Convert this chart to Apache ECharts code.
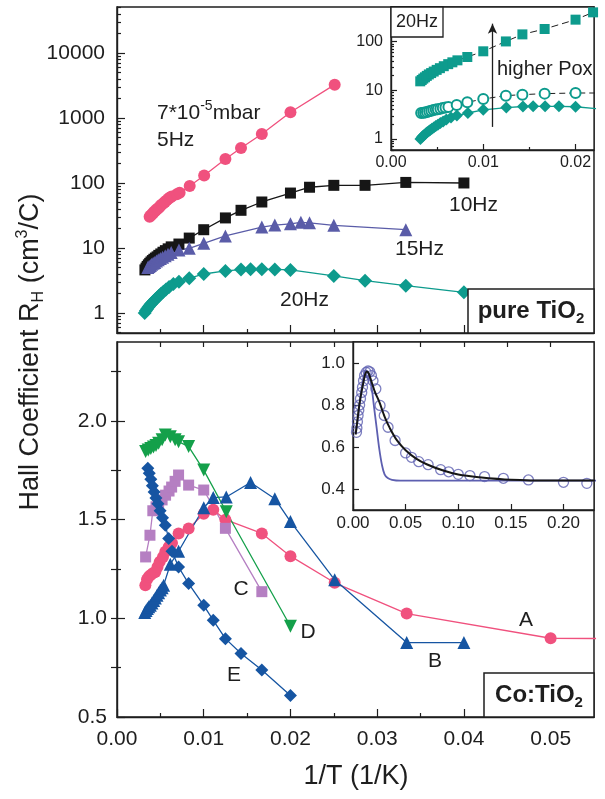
<!DOCTYPE html>
<html>
<head>
<meta charset="utf-8">
<script src="https://cdn.jsdelivr.net/npm/echarts@6/dist/echarts.min.js"></script>
<style>
html, body { margin: 0; padding: 0; background: #fff; }
#main { width: 605px; height: 799px; }
</style>
</head>
<body>
<div id="main"></div>
<script>
var INK = '#1e1e1e';
var FONT = "'Liberation Sans', Arial, Helvetica, sans-serif";

// ---- top panel, pure TiO2 (1/T, R_H) ----
var hz5X = [0.00376, 0.0039, 0.00403, 0.00417, 0.0043, 0.00444, 0.00458, 0.00472, 0.00487, 0.00502, 0.00518, 0.00535, 0.00553, 0.00572, 0.00592, 0.00613, 0.0063, 0.0069, 0.00722, 0.00838, 0.01005, 0.0125, 0.0143, 0.0167, 0.0200, 0.0251];
var hz5Y = [30.3, 31.5, 33, 34.5, 36, 37.5, 39, 40.5, 42.5, 44.5, 46.5, 49, 51, 54, 57, 60, 62, 67, 71, 90, 130, 234, 345, 567, 1224, 3256];

var hz10X = [0.00322, 0.00335, 0.00348, 0.00362, 0.00377, 0.00392, 0.00408, 0.00425, 0.00443, 0.00462, 0.00482, 0.00505, 0.0053, 0.00558, 0.0059, 0.00625, 0.00714, 0.00833, 0.0100, 0.0125, 0.0143, 0.0167, 0.0200, 0.0222, 0.0250, 0.0286, 0.0333, 0.0400];
var hz10Y = [4.6, 4.9, 5.2, 5.5, 5.8, 6.1, 6.4, 6.7, 7.0, 7.3, 7.7, 8.1, 8.6, 9.1, 9.7, 10.4, 11.5, 14.2, 19.1, 29, 38, 51, 70, 86, 92, 92, 102, 100];

var hz15X = [0.00355, 0.0037, 0.00385, 0.004, 0.00417, 0.00435, 0.00455, 0.00476, 0.005, 0.00526, 0.00556, 0.00588, 0.00625, 0.00714, 0.00833, 0.0100, 0.0125, 0.0167, 0.0182, 0.0200, 0.0212, 0.0222, 0.0250, 0.0333];
var hz15Y = [5.0, 5.2, 5.4, 5.6, 5.8, 6.0, 6.3, 6.6, 6.9, 7.2, 7.6, 8.0, 8.5, 9.3, 9.9, 11.8, 15.3, 21, 22.5, 23.5, 24.8, 24.4, 22.3, 19.1];

var hz20X = [0.00319, 0.00333, 0.00347, 0.00362, 0.00377, 0.00392, 0.00408, 0.00425, 0.00443, 0.00463, 0.00485, 0.00508, 0.00535, 0.00565, 0.0060, 0.0065, 0.00714, 0.00833, 0.0100, 0.0125, 0.0143, 0.0154, 0.0167, 0.0182, 0.0200, 0.0250, 0.0286, 0.0333, 0.0400];
var hz20Y = [1.0, 1.08, 1.15, 1.22, 1.3, 1.37, 1.45, 1.53, 1.62, 1.72, 1.84, 1.97, 2.12, 2.3, 2.52, 2.78, 3.03, 3.42, 3.98, 4.43, 4.65, 4.7, 4.7, 4.68, 4.6, 3.72, 3.14, 2.63, 2.08];

// top inset, 20Hz at different oxygen pressures
var poxHighX = [0.00317, 0.00333, 0.0035, 0.00368, 0.00388, 0.0041, 0.00435, 0.00463, 0.00495, 0.0053, 0.00572, 0.0062, 0.00665, 0.0072, 0.00827, 0.0100, 0.01245, 0.01424, 0.01665, 0.0200, 0.0219];
var poxHighY = [15.3, 16.3, 17.4, 18.5, 19.8, 21.2, 22.6, 24.3, 26.3, 28.5, 31.3, 34.5, 37.6, 41.3, 48.4, 63.3, 101, 141, 182, 283, 400];
var poxMidX = [0.00327, 0.0035, 0.0037, 0.0039, 0.00414, 0.00437, 0.0046, 0.00485, 0.00507, 0.00535, 0.00561, 0.0059, 0.00622, 0.00712, 0.00827, 0.0100, 0.01245, 0.01424, 0.01665, 0.0200, 0.0250];
var poxMidY = [3.42, 3.46, 3.5, 3.6, 3.7, 3.82, 3.95, 4.02, 4.1, 4.2, 4.33, 4.43, 4.55, 5.0, 5.67, 6.64, 7.77, 8.15, 8.55, 8.81, 8.8];

// ---- bottom panel, Co:TiO2 ----
var aX = [0.00327, 0.00346, 0.00365, 0.00384, 0.00413, 0.00442, 0.00467, 0.00492, 0.0053, 0.00557, 0.00596, 0.00634, 0.0071, 0.00826, 0.0100, 0.0111, 0.0125, 0.0167, 0.0200, 0.0251, 0.0334, 0.0500, 0.0667];
var aY = [1.168, 1.197, 1.21, 1.218, 1.228, 1.235, 1.26, 1.286, 1.311, 1.337, 1.362, 1.382, 1.43, 1.455, 1.53, 1.55, 1.5, 1.43, 1.315, 1.18, 1.024, 0.899, 0.895];

var bX = [0.0032, 0.00335, 0.0035, 0.00366, 0.00384, 0.00403, 0.00422, 0.00442, 0.00461, 0.0048, 0.005, 0.0052, 0.00538, 0.00615, 0.0071, 0.0100, 0.0111, 0.0126, 0.0154, 0.0182, 0.0200, 0.0251, 0.0334, 0.0400];
var bY = [1.03, 1.04, 1.05, 1.058, 1.066, 1.078, 1.09, 1.103, 1.117, 1.13, 1.143, 1.155, 1.168, 1.274, 1.34, 1.56, 1.612, 1.615, 1.688, 1.606, 1.49, 1.195, 0.877, 0.877];

var cX = [0.0033, 0.0038, 0.00413, 0.0045, 0.0048, 0.0052, 0.0056, 0.006, 0.0063, 0.0067, 0.0071, 0.00826, 0.0100, 0.0125, 0.0167];
var cY = [1.311, 1.421, 1.545, 1.565, 1.58, 1.6, 1.624, 1.645, 1.665, 1.694, 1.726, 1.675, 1.65, 1.456, 1.135];

var dX = [0.0033, 0.0036, 0.0039, 0.0042, 0.0045, 0.0048, 0.0052, 0.00557, 0.00615, 0.0067, 0.0071, 0.00826, 0.0100, 0.0126, 0.0200];
var dY = [1.845, 1.853, 1.86, 1.868, 1.876, 1.887, 1.905, 1.929, 1.92, 1.905, 1.895, 1.87, 1.751, 1.54, 0.96];

var eX = [0.00355, 0.00372, 0.0039, 0.00408, 0.00428, 0.00449, 0.00472, 0.00497, 0.00525, 0.00557, 0.00596, 0.00634, 0.0071, 0.00826, 0.0100, 0.0111, 0.0125, 0.0143, 0.0167, 0.0200];
var eY = [1.76, 1.735, 1.705, 1.672, 1.64, 1.61, 1.58, 1.545, 1.51, 1.472, 1.404, 1.34, 1.26, 1.176, 1.066, 0.99, 0.897, 0.822, 0.738, 0.609];

// bottom inset: measured points and two model curves
var insetX = [0.0033, 0.0037, 0.0042, 0.0048, 0.0055, 0.0063, 0.0071, 0.0083, 0.009, 0.010, 0.011, 0.0125, 0.0143, 0.0159, 0.0175, 0.019, 0.0217, 0.0257, 0.0297, 0.0333, 0.040, 0.050, 0.0556, 0.0625, 0.0714, 0.0833, 0.0909, 0.100, 0.1111, 0.125, 0.1429, 0.1667, 0.200, 0.2222];
var insetY = [0.67, 0.69, 0.72, 0.75, 0.775, 0.80, 0.83, 0.86, 0.885, 0.915, 0.94, 0.955, 0.962, 0.958, 0.94, 0.915, 0.877, 0.798, 0.75, 0.694, 0.631, 0.572, 0.551, 0.53, 0.516, 0.492, 0.482, 0.47, 0.464, 0.459, 0.451, 0.443, 0.432, 0.427];
var fitBlackX = [0.0025, 0.004, 0.006, 0.008, 0.010, 0.0115, 0.013, 0.0145, 0.016, 0.018, 0.021, 0.025, 0.030, 0.035, 0.042, 0.050, 0.060, 0.070, 0.085, 0.100, 0.120, 0.150, 0.190, 0.235];
var fitBlackY = [0.66, 0.72, 0.80, 0.86, 0.91, 0.945, 0.96, 0.955, 0.935, 0.905, 0.86, 0.815, 0.745, 0.69, 0.63, 0.585, 0.545, 0.518, 0.489, 0.469, 0.456, 0.444, 0.44, 0.44];
var fitPurpleX = [0.0025, 0.005, 0.0075, 0.010, 0.0123, 0.015, 0.0175, 0.020, 0.0225, 0.025, 0.0275, 0.030, 0.033, 0.037, 0.045, 0.060, 0.100, 0.235];
var fitPurpleY = [0.66, 0.75, 0.855, 0.935, 0.965, 0.945, 0.89, 0.79, 0.69, 0.59, 0.515, 0.47, 0.452, 0.444, 0.44, 0.44, 0.44, 0.44];

// ---- tick values ----
var xMajor = [0, 0.01, 0.02, 0.03, 0.04, 0.05];
var xMinor = [0.005, 0.015, 0.025, 0.035, 0.045];
var xMirror = [0.005, 0.01, 0.015, 0.02, 0.025, 0.03, 0.035, 0.04, 0.045, 0.05];
var topYMajor = [1, 10, 100, 1000, 10000];
var topYMinor = [0.5, 0.6, 0.7, 0.8, 0.9, 2, 3, 4, 5, 6, 7, 8, 9, 20, 30, 40, 50, 60, 70, 80, 90,
  200, 300, 400, 500, 600, 700, 800, 900, 2000, 3000, 4000, 5000, 6000, 7000, 8000, 9000, 20000, 30000, 40000, 50000];
var botYMajor = [0.5, 1.0, 1.5, 2.0];
var botYMinor = [0.75, 1.25, 1.75, 2.25];
var botYMirror = [0.75, 1.0, 1.25, 1.5, 1.75, 2.0, 2.25];
var inTopXMajor = [0, 0.01, 0.02];
var inTopXMinor = [0.005, 0.015];
var inTopYMajor = [1, 10, 100];
var inTopYMinor = [0.6, 0.7, 0.8, 0.9, 2, 3, 4, 5, 6, 7, 8, 9, 20, 30, 40, 50, 60, 70, 80, 90, 200, 300, 400, 500];
var inBotXMajor = [0, 0.05, 0.10, 0.15, 0.20];
var inBotYMajor = [0.4, 0.6, 0.8, 1.0];

function zip(xs, ys) {
  return xs.map(function (x, i) { return [x, ys[i]]; });
}
function f2(v) { return v.toFixed(2); }
function f1(v) { return v.toFixed(1); }
function fInt(v) { return String(Math.round(v)); }

function axis(extra) {
  var a = {
    type: 'value',
    axisLine: { show: true, onZero: false, lineStyle: { color: INK, width: 1.4 } },
    axisTick: { show: false },
    axisLabel: { show: false },
    splitLine: { show: false },
    minorTick: { show: false },
    silent: true
  };
  for (var k in extra) a[k] = extra[k];
  return a;
}
function ticks(values, len) {
  return { show: true, inside: true, length: len, customValues: values, lineStyle: { color: INK, width: 1.2 } };
}
function labels(values, size, margin, fmt) {
  return { show: true, customValues: values, fontSize: size, margin: margin, color: INK, fontFamily: FONT, formatter: fmt };
}
var noLine = { show: false };

function line(name, xs, ys, xi, yi, color, symbol, size, extra) {
  var s = {
    name: name, type: 'line', xAxisIndex: xi, yAxisIndex: yi,
    data: zip(xs, ys),
    symbol: symbol, symbolSize: size, showSymbol: true,
    itemStyle: { color: color },
    lineStyle: { color: color, width: 1.3 },
    emphasis: { disabled: true },
    z: 3
  };
  for (var k in extra) s[k] = extra[k];
  return s;
}

var PINK = '#f0517e', BLACK = '#161616', SLATE = '#5a5ca8', TEAL = '#0d9b8d',
    GREEN = '#14a04a', ORCHID = '#b57fc2', BLUE = '#1655a2', INSET = '#5d5fb0';

var option = {
  animation: false,
  backgroundColor: '#fff',
  textStyle: { fontFamily: FONT, color: INK },
  grid: [
    { left: 117, top: 7, width: 477, height: 326, show: true, borderColor: INK, borderWidth: 1.5, outerBoundsMode: 'none' },
    { left: 117, top: 342, width: 477, height: 375, show: true, borderColor: INK, borderWidth: 1.5, outerBoundsMode: 'none' },
    { left: 391, top: 7, width: 203, height: 143, show: true, backgroundColor: '#fff', borderColor: INK, borderWidth: 1.3, outerBoundsMode: 'none' },
    { left: 353, top: 342, width: 241, height: 168, show: true, backgroundColor: '#fff', borderColor: INK, borderWidth: 1.3, outerBoundsMode: 'none' }
  ],
  xAxis: [
    axis({ gridIndex: 0, position: 'bottom', min: 0, max: 0.055, axisTick: ticks(xMajor, 8) }),
    axis({ gridIndex: 0, position: 'bottom', min: 0, max: 0.055, axisLine: noLine, axisTick: ticks(xMinor, 4) }),
    axis({ gridIndex: 1, position: 'bottom', min: 0, max: 0.055, axisTick: ticks(xMajor, 8), axisLabel: labels(xMajor, 21, 12, f2) }),
    axis({ gridIndex: 1, position: 'bottom', min: 0, max: 0.055, axisLine: noLine, axisTick: ticks(xMinor, 4) }),
    axis({ gridIndex: 1, position: 'top', min: 0, max: 0.055, axisLine: noLine, axisTick: ticks(xMirror, 5) }),
    axis({ gridIndex: 2, position: 'bottom', min: 0, max: 0.022, axisTick: ticks(inTopXMajor, 6), axisLabel: labels(inTopXMajor, 16, 5, f2) }),
    axis({ gridIndex: 2, position: 'bottom', min: 0, max: 0.022, axisLine: noLine, axisTick: ticks(inTopXMinor, 3) }),
    axis({ gridIndex: 3, position: 'bottom', min: 0, max: 0.229, axisTick: ticks(inBotXMajor, 6), axisLabel: labels(inBotXMajor, 17, 5, f2) })
  ],
  yAxis: [
    axis({ gridIndex: 0, type: 'log', logBase: 10, position: 'left', min: 0.492, max: 51000, axisTick: ticks(topYMajor, 8), axisLabel: labels(topYMajor, 21, 12, fInt) }),
    axis({ gridIndex: 0, type: 'log', logBase: 10, position: 'left', min: 0.492, max: 51000, axisLine: noLine, axisTick: ticks(topYMinor, 4) }),
    axis({ gridIndex: 1, position: 'left', min: 0.5, max: 2.4, axisTick: ticks(botYMajor, 8), axisLabel: labels(botYMajor, 21, 10, f1) }),
    axis({ gridIndex: 1, position: 'left', min: 0.5, max: 2.4, axisLine: noLine, axisTick: ticks(botYMinor, 4) }),
    axis({ gridIndex: 1, position: 'right', min: 0.5, max: 2.4, axisLine: noLine, axisTick: ticks(botYMirror, 6) }),
    axis({ gridIndex: 2, type: 'log', logBase: 10, position: 'left', min: 0.594, max: 515, axisTick: ticks(inTopYMajor, 6), axisLabel: labels(inTopYMajor, 16, 8, fInt) }),
    axis({ gridIndex: 2, type: 'log', logBase: 10, position: 'left', min: 0.594, max: 515, axisLine: noLine, axisTick: ticks(inTopYMinor, 3) }),
    axis({ gridIndex: 3, position: 'left', min: 0.3, max: 1.1, axisTick: ticks(inBotYMajor, 6), axisLabel: labels(inBotYMajor, 17, 8, f1) })
  ],
  series: [
    // top main
    line('5Hz', hz5X, hz5Y, 0, 0, PINK, 'circle', 12),
    line('10Hz', hz10X, hz10Y, 0, 0, BLACK, 'rect', 11),
    line('15Hz', hz15X, hz15Y, 0, 0, SLATE, 'triangle', 13),
    line('20Hz', hz20X, hz20Y, 0, 0, TEAL, 'diamond', 14),
    // bottom main
    line('A', aX, aY, 2, 2, PINK, 'circle', 12),
    line('B', bX, bY, 2, 2, BLUE, 'triangle', 13),
    line('C', cX, cY, 2, 2, ORCHID, 'rect', 11),
    line('D', dX, dY, 2, 2, GREEN, 'triangle', 13, { symbolRotate: 180 }),
    line('E', eX, eY, 2, 2, BLUE, 'diamond', 13),
    // top inset
    line('high Pox', poxHighX, poxHighY, 5, 5, TEAL, 'rect', 10, {
      lineStyle: { color: INK, width: 1, type: [7, 4] },
      markLine: {
        silent: true, symbol: ['none', 'arrow'], symbolSize: [7, 10],
        lineStyle: { color: INK, width: 1.3, type: 'solid' },
        label: { show: false },
        data: [[{ coord: [0.011, 1.77] }, { coord: [0.011, 234] }]]
      }
    }),
    line('mid Pox', poxMidX, poxMidY, 5, 5, TEAL, 'emptyCircle', 10, {
      itemStyle: { color: TEAL, borderColor: TEAL, borderWidth: 2 },
      lineStyle: { color: INK, width: 1, type: [6, 4] }
    }),
    line('low Pox', hz20X, hz20Y, 5, 5, TEAL, 'diamond', 12),
    // bottom inset
    {
      type: 'scatter', xAxisIndex: 7, yAxisIndex: 7, data: zip(insetX, insetY),
      symbol: 'circle', symbolSize: 10,
      itemStyle: { color: 'rgba(255,255,255,0)', borderColor: INSET, borderWidth: 1.3 },
      emphasis: { disabled: true }, z: 3
    },
    line('fit 2', fitPurpleX, fitPurpleY, 7, 7, INSET, 'none', 0, { smooth: 0.35, lineStyle: { color: INSET, width: 1.8 }, z: 4 }),
    line('fit 1', fitBlackX, fitBlackY, 7, 7, BLACK, 'none', 0, { smooth: 0.35, lineStyle: { color: BLACK, width: 2 }, z: 5 })
  ],
  graphic: [
    // axis titles
    {
      type: 'text', x: 31, y: 352, rotation: Math.PI / 2, z: 100,
      style: {
        text: '{n|Hall Coefficient R}{sub|H}{n| (cm}{sup|3}{n|/C)}',
        textAlign: 'center', textVerticalAlign: 'middle', fill: INK,
        rich: {
          n: { fontSize: 27, lineHeight: 32, fontFamily: FONT, fill: INK },
          sub: { fontSize: 16, lineHeight: 18, verticalAlign: 'bottom', fontFamily: FONT, fill: INK },
          sup: { fontSize: 16, lineHeight: 16, verticalAlign: 'top', fontFamily: FONT, fill: INK }
        }
      }
    },
    { type: 'text', x: 356, y: 777, z: 100, style: { text: '1/T (1/K)', font: '27px ' + FONT, fill: INK, textAlign: 'center', textVerticalAlign: 'middle' } },

    // top panel annotations
    {
      type: 'text', x: 157, y: 113, z: 100,
      style: {
        text: '{n|7*10}{sup|-5}{n|mbar}', textVerticalAlign: 'middle', fill: INK,
        rich: {
          n: { fontSize: 21, lineHeight: 28, fontFamily: FONT, fill: INK },
          sup: { fontSize: 14, lineHeight: 14, verticalAlign: 'top', fontFamily: FONT, fill: INK }
        }
      }
    },
    { type: 'text', x: 157, y: 140, z: 100, style: { text: '5Hz', font: '21px ' + FONT, fill: INK, textVerticalAlign: 'middle' } },
    { type: 'text', x: 449, y: 205, z: 100, style: { text: '10Hz', font: '21px ' + FONT, fill: INK, textVerticalAlign: 'middle' } },
    { type: 'text', x: 395, y: 249, z: 100, style: { text: '15Hz', font: '21px ' + FONT, fill: INK, textVerticalAlign: 'middle' } },
    { type: 'text', x: 280, y: 300, z: 100, style: { text: '20Hz', font: '21px ' + FONT, fill: INK, textVerticalAlign: 'middle' } },
    { type: 'rect', z: 100, shape: { x: 468, y: 289, width: 126, height: 44 }, style: { fill: '#fff', stroke: INK, lineWidth: 1.5 } },
    {
      type: 'text', x: 531, y: 311, z: 101,
      style: {
        text: '{n|pure TiO}{sub|2}', textAlign: 'center', textVerticalAlign: 'middle', fill: INK,
        rich: {
          n: { fontSize: 24, fontWeight: 'bold', lineHeight: 30, fontFamily: FONT, fill: INK },
          sub: { fontSize: 15, fontWeight: 'bold', lineHeight: 16, verticalAlign: 'bottom', fontFamily: FONT, fill: INK }
        }
      }
    },
    // top inset annotations
    { type: 'rect', z: 100, shape: { x: 391, y: 7, width: 52, height: 30 }, style: { fill: '#fff', stroke: INK, lineWidth: 1.3 } },
    { type: 'text', x: 417, y: 22, z: 101, style: { text: '20Hz', font: '18px ' + FONT, fill: INK, textAlign: 'center', textVerticalAlign: 'middle' } },
    { type: 'text', x: 497, y: 69, z: 101, style: { text: 'higher Pox', font: '20px ' + FONT, fill: INK, textVerticalAlign: 'middle' } },

    // bottom panel annotations
    { type: 'text', x: 526, y: 620, z: 100, style: { text: 'A', font: '21px ' + FONT, fill: INK, textAlign: 'center', textVerticalAlign: 'middle' } },
    { type: 'text', x: 435, y: 661, z: 100, style: { text: 'B', font: '21px ' + FONT, fill: INK, textAlign: 'center', textVerticalAlign: 'middle' } },
    { type: 'text', x: 241, y: 589, z: 100, style: { text: 'C', font: '21px ' + FONT, fill: INK, textAlign: 'center', textVerticalAlign: 'middle' } },
    { type: 'text', x: 308, y: 632, z: 100, style: { text: 'D', font: '21px ' + FONT, fill: INK, textAlign: 'center', textVerticalAlign: 'middle' } },
    { type: 'text', x: 234, y: 675, z: 100, style: { text: 'E', font: '21px ' + FONT, fill: INK, textAlign: 'center', textVerticalAlign: 'middle' } },
    { type: 'rect', z: 100, shape: { x: 484, y: 673, width: 110, height: 44 }, style: { fill: '#fff', stroke: INK, lineWidth: 1.5 } },
    {
      type: 'text', x: 539, y: 695, z: 101,
      style: {
        text: '{n|Co:TiO}{sub|2}', textAlign: 'center', textVerticalAlign: 'middle', fill: INK,
        rich: {
          n: { fontSize: 24, fontWeight: 'bold', lineHeight: 30, fontFamily: FONT, fill: INK },
          sub: { fontSize: 15, fontWeight: 'bold', lineHeight: 16, verticalAlign: 'bottom', fontFamily: FONT, fill: INK }
        }
      }
    }
  ]
};

var myChart = echarts.init(document.getElementById('main'), null, { renderer: 'canvas' });
myChart.setOption(option);
</script>
</body>
</html>
